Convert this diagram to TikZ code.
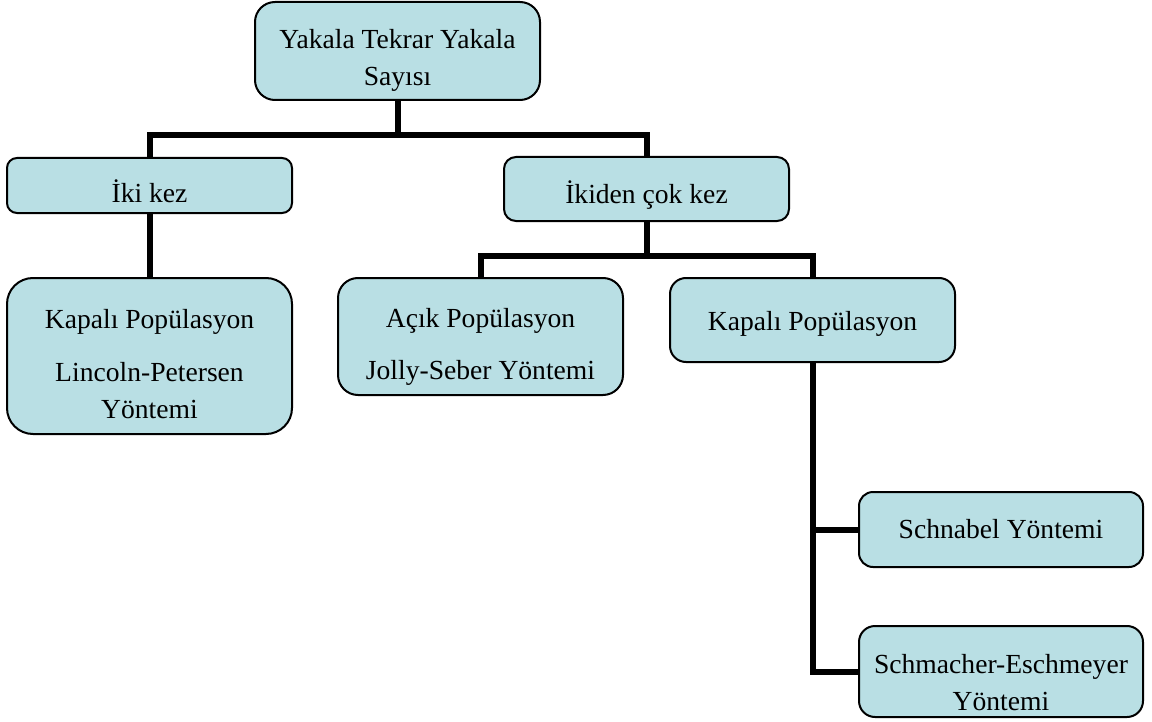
\documentclass[tikz,border=0pt]{standalone}
\usepackage{fontspec}
\setmainfont{Liberation Serif}
\usepackage{xcolor}
\usepackage{tikz}
\definecolor{boxfill}{RGB}{185,223,228}
% invisible strut that pushes the text of a box down
\newcommand{\topgap}[1]{\rule{0pt}{#1}}

\begin{document}
\begin{tikzpicture}[x=0.5pt,y=-0.5pt,
    box/.style={draw=black, line width=1pt, fill=boxfill, align=center, inner sep=0pt,
                minimum width=142.5pt, font=\fontsize{13.8}{18.3}\selectfont},
    link/.style={line width=3pt}]
        \useasboundingbox (0,0) rectangle (1152,722);

        % Split points of the tree
        \coordinate (split1) at (397.5,135);
        \coordinate (split2) at (646.5,256);

        % Boxes
        \node[box, minimum height=49pt, rounded corners=10pt] (root) at (397.5,51) {\topgap{19pt}Yakala Tekrar Yakala\\Sayısı};
        \node[box, minimum height=27.5pt, rounded corners=5pt] (iki) at (149.5,185.5) {\topgap{17pt}İki kez};
        \node[box, minimum height=32pt, rounded corners=6pt] (ikiden) at (646.5,189) {\topgap{17pt}İkiden çok kez};
        \node[box, minimum height=78pt, rounded corners=13pt] (kapA) at (149.5,356) {\topgap{17.6pt}Kapalı Popülasyon\\[8pt]Lincoln-Petersen\\Yöntemi};
        \node[box, minimum height=58.5pt, rounded corners=10pt] (acik) at (480.5,336.5) {\topgap{20pt}Açık Popülasyon\\[8pt]Jolly-Seber Yöntemi};
        \node[box, minimum height=42pt, rounded corners=8pt] (kapB) at (812.5,320) {\topgap{13pt}Kapalı Popülasyon};
        \node[box, minimum width=142pt, minimum height=37.5pt, rounded corners=7pt] (schn) at (1001,529.5) {Schnabel Yöntemi};
        \node[box, minimum width=142pt, minimum height=45.5pt, rounded corners=8pt] (schm) at (1001,671.5) {\topgap{20.4pt}Schmacher-Eschmeyer\\Yöntemi};

        % Connectors
        \draw[link] (root.south) -- (split1) -| (iki.north);
        \draw[link] (split1) -| (ikiden.north);
        \draw[link] (iki.south) -- (kapA.north);
        \draw[link] (ikiden.south) -- (split2) -| (acik.north);
        \draw[link] (split2) -| (kapB.north);
        \draw[link] (kapB.south) |- (schm.west);
        \draw[link] (kapB.south |- schn.west) -- (schn.west);
    \end{tikzpicture}
\end{document}
